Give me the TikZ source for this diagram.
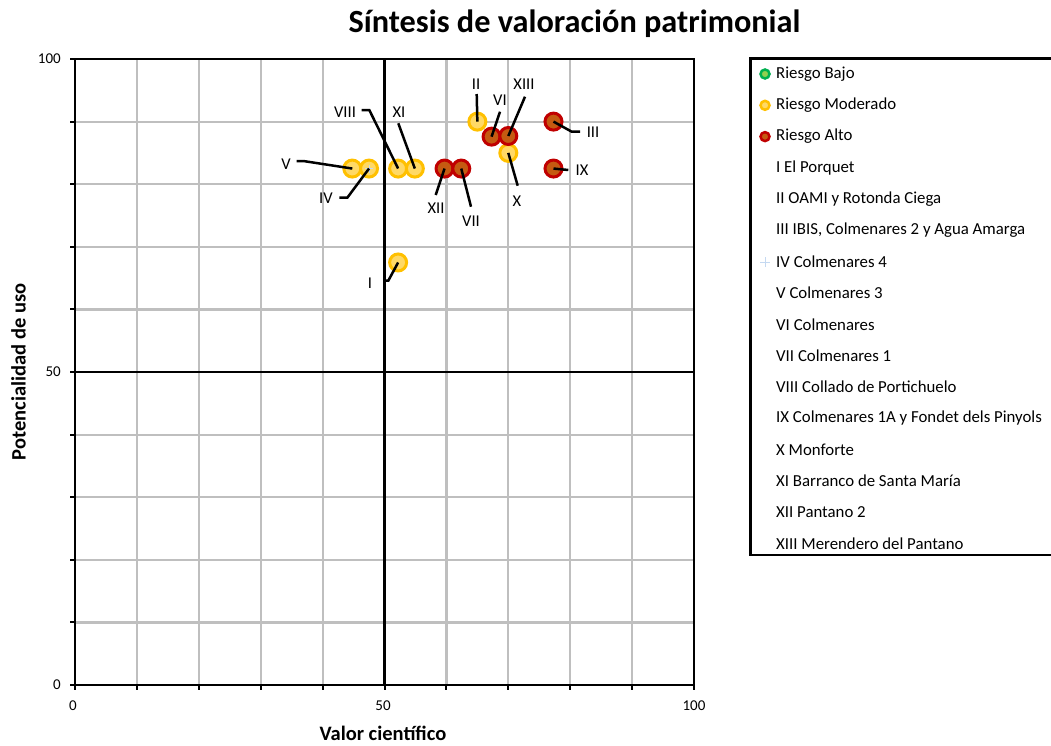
\documentclass[tikz,border=0pt]{standalone}
\usepackage{fontspec}
\setmainfont{Carlito}
\definecolor{gridgray}{HTML}{BFBFBF}
\definecolor{modborder}{HTML}{FFC000}
\definecolor{modfill}{HTML}{FFD966}
\definecolor{altborder}{HTML}{C00000}
\definecolor{altfill}{HTML}{C55A11}
\definecolor{lowborder}{HTML}{00B050}
\definecolor{lowfill}{HTML}{92D050}
\definecolor{plusblue}{HTML}{C5D9F1}
\begin{document}
\begin{tikzpicture}[x=1pt,y=-1pt,
  gridline/.style={draw=gridgray, line width=2.2pt},
  axisline/.style={draw=black, line width=2.5pt},
  tickline/.style={draw=black, line width=2pt},
  modpt/.style={circle, draw=modborder, fill=modfill, line width=3pt, minimum size=17pt, inner sep=0pt},
  altpt/.style={circle, draw=altborder, fill=altfill, line width=3pt, minimum size=17pt, inner sep=0pt},
  legmark/.style={circle, line width=2.5pt, minimum size=9pt, inner sep=0pt},
  lead/.style={draw=black, line width=2.5pt},
  ptlabel/.style={font=\fontsize{16.5}{16.5}\selectfont, inner sep=0pt},
  ticklabel/.style={font=\fontsize{15}{15}\selectfont, inner sep=0pt},
  legtext/.style={anchor=west, font=\fontsize{16.8}{16.8}\selectfont, inner sep=0pt},
  axtitle/.style={font=\bfseries\fontsize{20.5}{20.5}\selectfont, inner sep=0pt, anchor=base},
  plusmark/.style={draw=plusblue, line width=0.8pt}
]
\useasboundingbox (0,0) rectangle (1051,745);

% title
\node[font=\bfseries\fontsize{32.3}{32.3}\selectfont, inner sep=0pt, anchor=base] (title) at (574.5,32) {Síntesis de valoración patrimonial};

\begin{scope}[shift={(75,685)}, x=6.19pt, y=6.26pt]
  \foreach \v in {10,20,30,40,60,70,80,90} {
    \draw[gridline] (\v,0) -- (\v,100);
    \draw[gridline] (0,\v) -- (100,\v);
  }
  \draw[axisline] (50,0) -- (50,100);
  \draw[axisline] (0,50) -- (100,50);
  \draw[axisline] (0,0) rectangle (100,100);
  \foreach \v in {0,10,...,100} {
    \draw[tickline] (\v,0) -- ++(0pt,-5pt);
    \draw[tickline] (0,\v) -- ++(-5pt,0pt);
  }
  % moderate risk points
  \node[modpt] (pV) at (44.8,82.5) {};
  \node[modpt] (pIV) at (47.5,82.5) {};
  \node[modpt] (pVIII) at (52.2,82.5) {};
  \node[modpt] (pXI) at (54.9,82.5) {};
  \node[modpt] (pI) at (52.2,67.5) {};
  \node[modpt] (pII) at (65,90) {};
  \node[modpt] (pX) at (70,85) {};
  % high risk points
  \node[altpt] (pXII) at (59.7,82.5) {};
  \node[altpt] (pVII) at (62.4,82.5) {};
  \node[altpt] (pVI) at (67.3,87.6) {};
  \node[altpt] (pXIII) at (70,87.7) {};
  \node[altpt] (pIII) at (77.3,90) {};
  \node[altpt] (pIX) at (77.3,82.5) {};
\end{scope}
\draw[plusmark] ([xshift=-4pt]pIV.center) -- ([xshift=4pt]pIV.center);
\draw[plusmark] ([yshift=-4pt]pIV.center) -- ([yshift=4pt]pIV.center);

% tick labels
\node[ticklabel] (x0) at (73,706) {0};
\node[ticklabel] (x50) at (383,706) {50};
\node[ticklabel] (x100) at (694,706) {100};
\node[ticklabel, anchor=east] (y100) at (61,59) {100};
\node[ticklabel, anchor=east] (y50) at (61,372) {50};
\node[ticklabel, anchor=east] (y0) at (61,685) {0};

% axis titles
\node[axtitle] (xt) at (383,740) {Valor científico};
\node[axtitle, rotate=90] (yt) at (25.5,372) {Potencialidad de uso};

% point labels
\node[ptlabel] (lI) at (370,283) {I};
\node[ptlabel] (lII) at (476,84) {II};
\node[ptlabel] (lIII) at (593,132) {III};
\node[ptlabel] (lIV) at (326,198) {IV};
\node[ptlabel] (lV) at (286,164) {V};
\node[ptlabel] (lVI) at (500,100) {VI};
\node[ptlabel] (lVII) at (471,221) {VII};
\node[ptlabel] (lVIII) at (345,112) {VIII};
\node[ptlabel] (lIX) at (582,170.5) {IX};
\node[ptlabel] (lX) at (517,201) {X};
\node[ptlabel] (lXI) at (399,112) {XI};
\node[ptlabel] (lXII) at (436,208) {XII};
\node[ptlabel] (lXIII) at (524,84) {XIII};

% leader lines
\coordinate (cIa) at (385,280.7);   \coordinate (cIb) at (388.3,280.7);
\coordinate (cII) at (476.7,94);
\coordinate (cIIIa) at (571.7,131.7); \coordinate (cIIIb) at (580,131.7);
\coordinate (cIVa) at (339.3,197.7); \coordinate (cIVb) at (347.3,197.7);
\coordinate (cVa) at (296.7,161);   \coordinate (cVb) at (303.3,161);
\coordinate (cVI) at (500,111.7);
\coordinate (cVII) at (471,206.7);
\coordinate (cVIIIa) at (361.7,110); \coordinate (cVIIIb) at (369.3,110);
\coordinate (cIX) at (568.3,170);
\coordinate (cX) at (517.7,185.7);
\coordinate (cXI) at (398.3,123.3);
\coordinate (cXII) at (435.7,195);
\coordinate (cXIII) at (525,96.7);
\draw[lead] (cIa) -- (cIb) -- (pI.center);
\draw[lead] (cII) -- (pII.center);
\draw[lead] (pIII.center) -- (cIIIa) -- (cIIIb);
\draw[lead] (cIVa) -- (cIVb) -- (pIV.center);
\draw[lead] (cVa) -- (cVb) -- (pV.center);
\draw[lead] (cVI) -- (pVI.center);
\draw[lead] (cVII) -- (pVII.center);
\draw[lead] (cVIIIa) -- (cVIIIb) -- (pVIII.center);
\draw[lead] (pIX.center) -- (cIX);
\draw[lead] (cX) -- (pX.center);
\draw[lead] (cXI) -- (pXI.center);
\draw[lead] (cXII) -- (pXII.center);
\draw[lead] (cXIII) -- (pXIII.center);

% legend
\draw[axisline] (1053,58.3) -- (750.7,58.3) -- (750.7,555) -- (1053,555);
\node[legmark, draw=lowborder, fill=lowfill] (m1) at (765,74) {};
\node[legmark, draw=modborder, fill=modfill] (m2) at (765,105.3) {};
\node[legmark, draw=altborder, fill=altfill] (m3) at (765,136.6) {};
\coordinate (m4) at (765,262);
\draw[plusmark] ([xshift=-5pt]m4) -- ([xshift=5pt]m4);
\draw[plusmark] ([yshift=-5pt]m4) -- ([yshift=5pt]m4);
\foreach \t [count=\i from 0] in {Riesgo Bajo, Riesgo Moderado, Riesgo Alto, I El Porquet, II OAMI y Rotonda Ciega, {III IBIS, Colmenares 2 y Agua Amarga}, IV Colmenares 4, V Colmenares 3, VI Colmenares, VII Colmenares 1, VIII Collado de Portichuelo, IX Colmenares 1A y Fondet dels Pinyols, X Monforte, XI Barranco de Santa María, XII Pantano 2, XIII Merendero del Pantano} {
  \node[legtext] (leg\i) at (776,74+31.3*\i) {\t};
}
\end{tikzpicture}
\end{document}
